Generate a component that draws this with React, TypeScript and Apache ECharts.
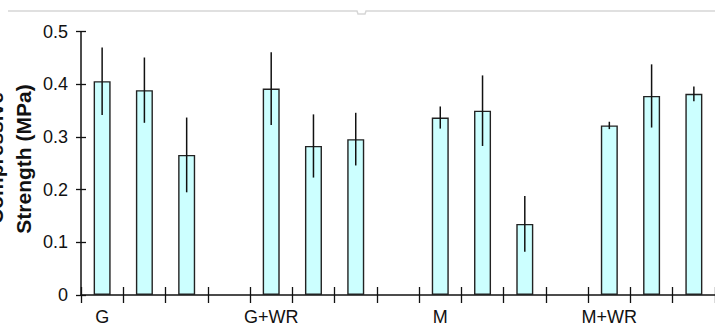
import React, { useEffect, useRef } from "react";
import * as echarts from "echarts";

const groups = ["G", "G+WR", "M", "M+WR"];
const gMeans = [0.406, 0.389, 0.266];
const gwrMeans = [0.392, 0.283, 0.296];
const mMeans = [0.337, 0.35, 0.135];
const mwrMeans = [0.322, 0.378, 0.382];
const gErr = [0.064, 0.062, 0.071];
const gwrErr = [0.069, 0.06, 0.05];
const mErr = [0.021, 0.067, 0.053];
const mwrErr = [0.007, 0.06, 0.014];
const yTicks = [0, 0.1, 0.2, 0.3, 0.4, 0.5];

const meansByGroup = [gMeans, gwrMeans, mMeans, mwrMeans];
const errByGroup = [gErr, gwrErr, mErr, mwrErr];

const NARROW = "'Liberation Sans Narrow', 'Arial Narrow', 'Liberation Sans', Arial, sans-serif";
const SANS = "'Liberation Sans', Arial, sans-serif";

export default function App() {
  const ref = useRef<HTMLDivElement>(null);
  useEffect(() => {
    if (!ref.current) return;
    const chart = echarts.init(ref.current, null, { renderer: "svg" });

    const categories: string[] = [];
    const labels: string[] = [];
    const barData: (number | null)[] = [];
    const errData: number[][] = [];
    groups.forEach((g, gi) => {
      meansByGroup[gi].forEach((m, bi) => {
        const idx = categories.length;
        categories.push(g + "#" + bi);
        labels.push(bi === 0 ? g : "");
        barData.push(m);
        const e = errByGroup[gi][bi];
        errData.push([idx, m - e, m + e]);
      });
      if (gi < groups.length - 1) {
        categories.push(g + "#gap");
        labels.push("");
        barData.push(null);
      }
    });

    const axisLineStyle = { color: "#111", width: 1.5 };

    chart.setOption({
      animation: false,
      backgroundColor: "#fff",
      grid: { left: 81, top: 31.7, width: 643, height: 263.3, containLabel: false },
      xAxis: [
        {
          type: "category",
          data: categories,
          position: "bottom",
          boundaryGap: true,
          axisLine: { show: true, lineStyle: axisLineStyle },
          axisTick: { show: true, interval: 0, length: 8, inside: false, lineStyle: { color: "#111", width: 1.3 } },
          axisLabel: {
            interval: 0,
            margin: 13,
            fontFamily: NARROW,
            fontSize: 18,
            color: "#111",
            formatter: (_v: string, i: number) => labels[i],
          },
          splitLine: { show: false },
        },
        {
          type: "category",
          data: categories,
          position: "bottom",
          boundaryGap: true,
          axisLine: { show: false },
          axisTick: { show: true, interval: 0, length: 8, inside: true, lineStyle: { color: "#111", width: 1.3 } },
          axisLabel: { show: false },
          splitLine: { show: false },
        },
      ],
      yAxis: [
        {
          type: "value",
          min: 0,
          max: 0.5,
          interval: 0.1,
          position: "left",
          axisLine: { show: true, lineStyle: axisLineStyle },
          axisTick: { show: true, length: 5, inside: false, lineStyle: { color: "#111", width: 1.3 } },
          axisLabel: {
            margin: 13,
            fontFamily: NARROW,
            fontSize: 18,
            color: "#111",
            formatter: (v: number) => {
              const t = yTicks.find((x) => Math.abs(x - v) < 1e-9);
              return t === undefined ? "" : String(t);
            },
          },
          splitLine: { show: false },
        },
        {
          type: "value",
          min: 0,
          max: 0.5,
          interval: 0.1,
          position: "left",
          axisLine: { show: false },
          axisTick: { show: true, length: 5, inside: true, lineStyle: { color: "#111", width: 1.3 } },
          axisLabel: { show: false },
          splitLine: { show: false },
        },
      ],
      series: [
        {
          type: "bar",
          xAxisIndex: 0,
          yAxisIndex: 0,
          data: barData,
          barWidth: 17,
          itemStyle: { color: "#CCFFFF", borderColor: "#222", borderWidth: 1.4 },
          z: 2,
        },
        {
          type: "custom",
          xAxisIndex: 0,
          yAxisIndex: 0,
          data: errData,
          z: 5,
          renderItem: (_params: any, api: any) => {
            const x = api.value(0);
            const lo = api.coord([x, api.value(1)]);
            const hi = api.coord([x, api.value(2)]);
            return {
              type: "line",
              shape: { x1: lo[0], y1: lo[1], x2: hi[0], y2: hi[1] },
              style: { stroke: "#111", lineWidth: 1.5 },
            };
          },
        },
      ],
      graphic: [
        {
          type: "polyline",
          shape: {
            points: [
              [8, 11],
              [357, 11],
              [358, 14],
              [365, 14],
              [366, 11],
              [715, 11],
            ],
          },
          style: { stroke: "#d6d6d6", lineWidth: 1.5, fill: null },
          silent: true,
        },
        {
          type: "text",
          x: -5,
          y: 158,
          rotation: Math.PI / 2,
          style: {
            text: "Compressive",
            fontFamily: SANS,
            fontWeight: "bold",
            fontSize: 21,
            fill: "#111",
            textAlign: "center",
            textVerticalAlign: "middle",
          },
        },
        {
          type: "text",
          x: 23,
          y: 159,
          rotation: Math.PI / 2,
          style: {
            text: "Strength (MPa)",
            fontFamily: SANS,
            fontWeight: "bold",
            fontSize: 21,
            fill: "#111",
            textAlign: "center",
            textVerticalAlign: "middle",
          },
        },
      ],
    });
    return () => chart.dispose();
  }, []);
  return (
    <div
      ref={ref}
      style={{ position: "fixed", left: 0, top: 0, width: 715, height: 329, background: "#fff" }}
    />
  );
}
